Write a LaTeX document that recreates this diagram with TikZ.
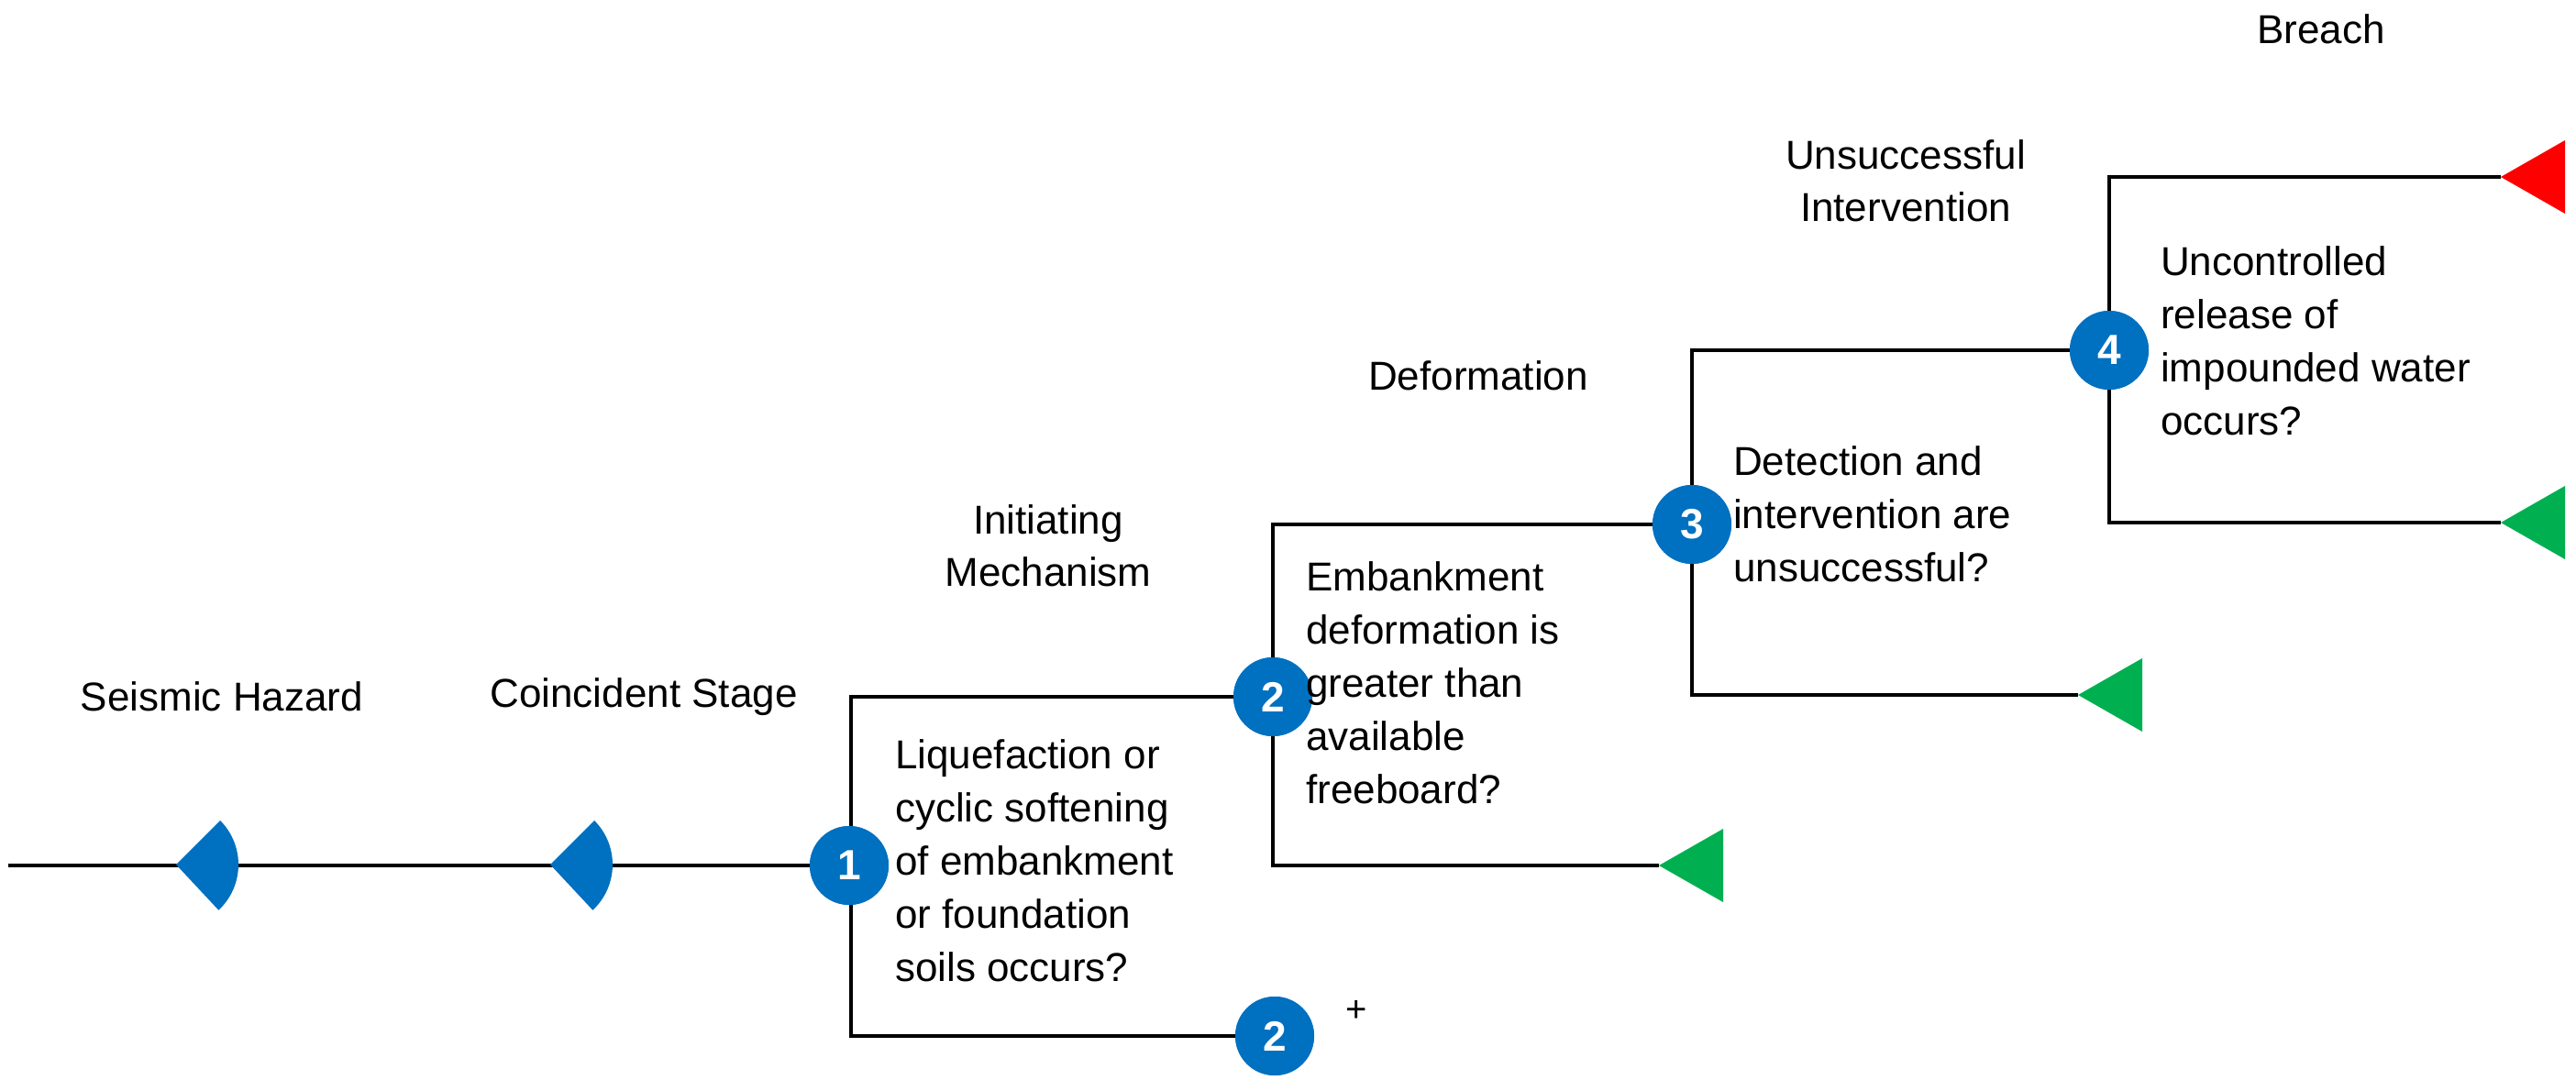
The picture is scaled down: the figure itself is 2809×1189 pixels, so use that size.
\documentclass[tikz,border=0pt]{standalone}
\usepackage{fontspec}
\setmainfont{Liberation Sans}
\definecolor{cblue}{HTML}{0070C0}
\definecolor{cgreen}{HTML}{00B050}
\definecolor{cred}{HTML}{FF0000}
\begin{document}
\begin{tikzpicture}[x=1pt,y=-1pt,
  ln/.style={line width=3.5pt},
  num/.style={circle,fill=cblue,text=white,minimum size=86pt,inner sep=0pt,font=\fontsize{46}{50}\selectfont\bfseries},
  lbl/.style={font=\fontsize{44}{57}\selectfont,align=center},
  q/.style={font=\fontsize{44}{58}\selectfont,align=left,anchor=north west,inner sep=0pt}]
\useasboundingbox (0,0) rectangle (2809,1189);
% nodes
\coordinate (start) at (9,944);
\node[num] (c1) at (926,944) {1};
\node[num] (c2b) at (1390,1130) {2};
\node[num] (c2) at (1388,760) {2};
\node[num] (c3) at (1845,572) {3};
\node[num] (c4) at (2300,382) {4};
\coordinate (g1) at (1809,944);
\coordinate (g2) at (2266,758);
\coordinate (g3) at (2727,570);
\coordinate (r1) at (2727,193);
% lines
\draw[ln] (start) -- (c1);
\draw[ln] (928,944) |- (c2);
\draw[ln] (928,944) |- (c2b);
\draw[ln] (c2) |- (c3);
\draw[ln] (c2) |- (g1);
\draw[ln] (c3) |- (c4);
\draw[ln] (c3) |- (g2);
\draw[ln] (c4) |- (r1);
\draw[ln] (c4) |- (g3);
% circles redrawn on top
\foreach \n/\t in {c1/1,c2b/2,c2/2,c3/3,c4/4} \node[num] at (\n) {\t};
% fans
\foreach \x in {192,600}{
  \fill[cblue] (\x,943) -- ++(-45:68) arc[start angle=-45,end angle=47,radius=68] -- cycle;
}
\fill[cblue] (c1.center) ++(0,0) circle (0pt);
% triangles
\foreach \c/\col in {g1/cgreen,g2/cgreen,g3/cgreen,r1/cred}
  \fill[\col] (\c) -- ++(70,-40) -- ++(0,80) -- cycle;
% plus
\node[font=\fontsize{40}{44}\selectfont] (plus) at (1479,1103) {+};
% labels
\node[lbl] (l1) at (242,760) {Seismic Hazard};
\node[lbl] (l2) at (702,760) {Coincident Stage};
\node[lbl] (l3) at (1143,595) {Initiating\\Mechanism};
\node[lbl] (l4) at (1612,410) {Deformation};
\node[lbl] (l5) at (2078,197) {Unsuccessful\\Intervention};
\node[lbl] (l6) at (2531,32) {Breach};
\node[q] (q1) at (976,806) {Liquefaction or\\cyclic softening\\of embankment\\or foundation\\soils occurs?};
\node[q] (q2) at (1424,612) {Embankment\\deformation is\\greater than\\available\\freeboard?};
\node[q] (q3) at (1890,486) {Detection and\\intervention are\\unsuccessful?};
\node[q] (q4) at (2356,268) {Uncontrolled\\release of\\impounded water\\occurs?};
\end{tikzpicture}
\end{document}
